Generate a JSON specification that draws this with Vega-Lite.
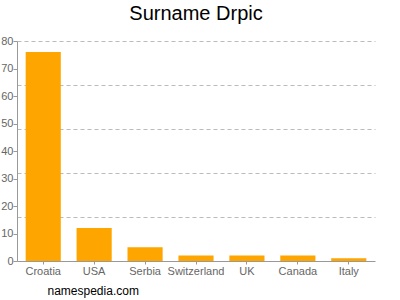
{
  "$schema": "https://vega.github.io/schema/vega-lite/v6.json",
  "width": 358,
  "height": 220,
  "autosize": "none",
  "padding": {"left": 17, "top": 41, "right": 25, "bottom": 39},
  "background": "white",
  "title": {
    "text": "Surname Drpic",
    "fontSize": 20,
    "font": "Liberation Sans",
    "fontWeight": "normal",
    "color": "#000000",
    "anchor": "middle",
    "offset": 11
  },
  "data": {
    "values": [
      {"country": "Croatia", "count": 76},
      {"country": "USA", "count": 12},
      {"country": "Serbia", "count": 5},
      {"country": "Switzerland", "count": 2},
      {"country": "UK", "count": 2},
      {"country": "Canada", "count": 2},
      {"country": "Italy", "count": 1}
    ]
  },
  "mark": {"type": "bar", "color": "#ffa500"},
  "encoding": {
    "x": {
      "field": "country",
      "type": "nominal",
      "sort": null,
      "scale": {"paddingInner": 0.31, "paddingOuter": 0.17},
      "axis": {
        "title": "namespedia.com",
        "titleFont": "Liberation Sans",
        "titleFontSize": 12,
        "titleFontWeight": "normal",
        "titleColor": "#000000",
        "titleAnchor": "start",
        "titleAlign": "left",
        "titleX": 30,
        "titleY": 33,
        "titleBaseline": "alphabetic",
        "labelAngle": 0,
        "labelFont": "Liberation Sans",
        "labelFontSize": 11,
        "labelColor": "#666666",
        "labelPadding": 1,
        "tickSize": 3,
        "tickColor": "#999999",
        "domainColor": "#999999",
        "grid": false
      }
    },
    "y": {
      "field": "count",
      "type": "quantitative",
      "scale": {"domain": [0, 80], "nice": false},
      "axis": {
        "title": null,
        "values": [0, 10, 16, 20, 30, 32, 40, 48, 50, 60, 64, 70, 80],
        "labelExpr": "datum.value % 10 === 0 ? datum.label : ''",
        "labelFont": "Liberation Sans",
        "labelFontSize": 11,
        "labelColor": "#666666",
        "labelPadding": 0,
        "tickSize": 4,
        "tickColor": "#999999",
        "tickOpacity": {"condition": {"test": "datum.value % 10 === 0", "value": 1}, "value": 0},
        "domainColor": "#999999",
        "grid": true,
        "gridColor": "#bbbbbb",
        "gridDash": [4, 3],
        "gridOpacity": {"condition": {"test": "datum.value % 16 === 0 && datum.value > 0", "value": 1}, "value": 0}
      }
    }
  },
  "config": {"view": {"stroke": null}}
}
